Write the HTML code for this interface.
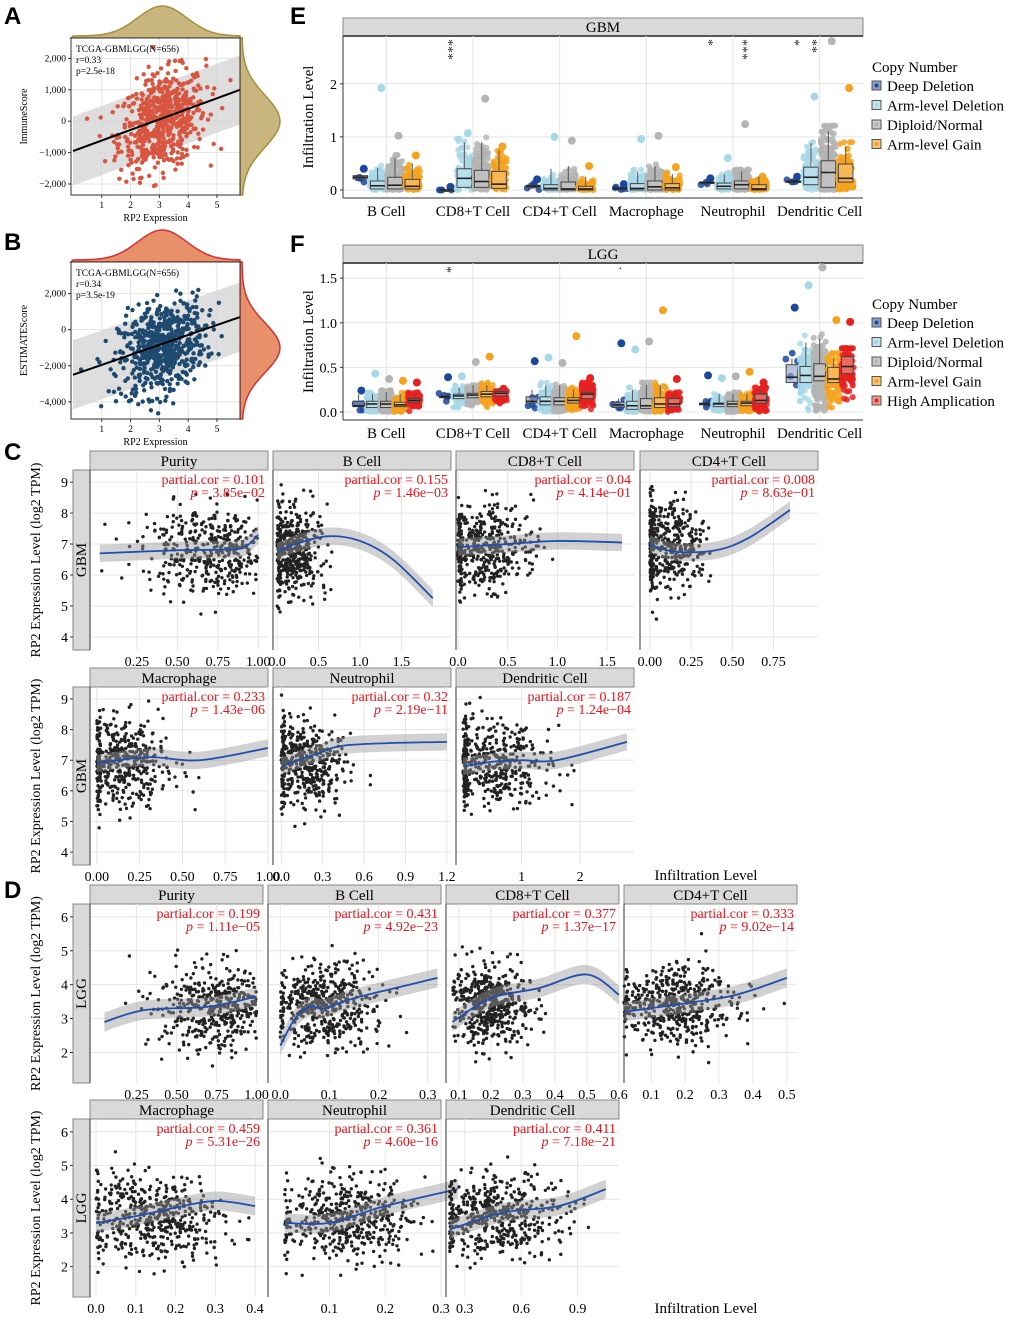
<!DOCTYPE html>
<html><head><meta charset="utf-8"><style>
html,body{margin:0;padding:0;background:#fff}
svg{display:block;font-family:"Liberation Serif",serif}
.pl{font-family:"Liberation Sans",sans-serif;font-weight:bold;font-size:24px}
</style></head><body>
<svg id="fig" width="1020" height="1319" viewBox="0 0 1020 1319" xmlns="http://www.w3.org/2000/svg">
<text class="pl" x="4" y="24">A</text>
<text class="pl" x="4" y="250">B</text>
<text class="pl" x="4" y="460">C</text>
<text class="pl" x="4" y="898">D</text>
<text class="pl" x="290" y="24">E</text>
<text class="pl" x="290" y="252">F</text>
<g id="root"></g>
</svg>
<script>
// ---------- DATA ----------
const abLabels = ["ImmuneScore","ESTIMATEScore"];
const abR = ["r=0.33","r=0.34"];
const abP = ["p=2.5e-18","p=3.5e-19"];
const abYTicksA = [2000,1000,0,-1000,-2000];
const abYTicksB = [2000,0,-2000,-4000];
const abXTicks = [1,2,3,4,5];
const abLineA = [-950,1000];
const abLineB = [-2500,700];
const abCloudA = [3.1,0.75,0,750,600];
const abCloudB = [3.1,0.75,-1000,1250,600];

const eCategories = ["B Cell","CD8+T Cell","CD4+T Cell","Macrophage","Neutrophil","Dendritic Cell"];
const eGroups = ["Deep Deletion","Arm-level Deletion","Diploid/Normal","Arm-level Gain"];
const fGroups = ["Deep Deletion","Arm-level Deletion","Diploid/Normal","Arm-level Gain","High Amplication"];
// per category, per group: [q1, median, q3, whiskerHigh, maxPoint]
const eBoxes = [
 [[0.21,0.24,0.27,0.3,0.4],[0.02,0.08,0.17,0.42,1.92],[0.02,0.09,0.24,0.6,1.02],[0.02,0.07,0.2,0.5,0.65]],
 [[0,0,0,0,0.06],[0.05,0.22,0.4,0.9,1.07],[0.05,0.16,0.37,0.9,1.72],[0.03,0.11,0.35,0.75,0.82]],
 [[0.04,0.07,0.09,0.12,0.2],[0.0,0.03,0.1,0.4,1.0],[0.0,0.02,0.15,0.45,0.93],[0.0,0.02,0.07,0.25,0.45]],
 [[0.02,0.03,0.04,0.05,0.11],[0.0,0.03,0.12,0.35,0.96],[0.0,0.06,0.17,0.45,1.02],[0.0,0.04,0.12,0.3,0.43]],
 [[0.13,0.14,0.15,0.16,0.22],[0.02,0.07,0.13,0.3,0.6],[0.02,0.1,0.17,0.35,1.24],[0.0,0.02,0.1,0.25,0.25]],
 [[0.15,0.16,0.17,0.18,0.25],[0.1,0.24,0.43,0.88,1.76],[0.05,0.33,0.55,1.1,2.8],[0.15,0.22,0.49,0.82,1.92]]
];
const fBoxes = [
 [[0.06,0.07,0.12,0.2,0.24],[0.05,0.09,0.12,0.2,0.43],[0.05,0.09,0.12,0.22,0.37],[0.06,0.08,0.11,0.2,0.35],[0.11,0.13,0.15,0.2,0.33]],
 [[0.16,0.17,0.18,0.2,0.39],[0.15,0.18,0.2,0.27,0.4],[0.16,0.19,0.21,0.3,0.56],[0.17,0.2,0.23,0.3,0.62],[0.18,0.21,0.23,0.27,0.26]],
 [[0.1,0.12,0.17,0.25,0.57],[0.08,0.12,0.17,0.3,0.61],[0.08,0.12,0.16,0.3,0.55],[0.1,0.13,0.16,0.25,0.85],[0.15,0.2,0.22,0.3,0.38]],
 [[0.05,0.08,0.11,0.15,0.77],[0.03,0.07,0.12,0.25,0.7],[0.04,0.07,0.15,0.3,0.79],[0.05,0.09,0.16,0.3,1.14],[0.06,0.09,0.15,0.2,0.37]],
 [[0.08,0.09,0.1,0.12,0.41],[0.06,0.09,0.1,0.2,0.38],[0.06,0.09,0.12,0.2,0.4],[0.07,0.1,0.12,0.2,0.45],[0.1,0.13,0.2,0.25,0.33]],
 [[0.33,0.39,0.53,0.6,1.17],[0.33,0.41,0.51,0.78,1.42],[0.35,0.4,0.54,0.82,1.62],[0.33,0.37,0.5,0.6,1.03],[0.43,0.51,0.62,0.65,1.01]]
];
const eStars = [["","","",""],["***","","",""],["","","",""],["","","",""],["*","","***",""],["*","**","",""]];
const fStars = [["","","","",""],["*","","","",""],["","","","",""],["·","","","",""],["","","","",""],["","","","",""]];

const cTitles = ["Purity","B Cell","CD8+T Cell","CD4+T Cell","Macrophage","Neutrophil","Dendritic Cell"];
const cCor = ["0.101","0.155","0.04","0.008","0.233","0.32","0.187"];
const cPval = ["3.85e\u221202","1.46e\u221203","4.14e\u221201","8.63e\u221201","1.43e\u221206","2.19e\u221211","1.24e\u221204"];
const dCor = ["0.199","0.431","0.377","0.333","0.459","0.361","0.411"];
const dPval = ["1.11e\u221205","4.92e\u221223","1.37e\u221217","9.02e\u221214","5.31e\u221226","4.60e\u221216","7.18e\u221221"];
const cXDom = [[-0.04,1.06],[-0.05,2.1],[-0.02,1.77],[-0.06,1.02],[-0.04,1.0],[-0.06,1.23],[-0.12,2.92]];
const cXTicks = [["0.25","0.50","0.75","1.00"],["0.0","0.5","1.0","1.5"],["0.0","0.5","1.0","1.5"],["0.00","0.25","0.50","0.75"],["0.00","0.25","0.50","0.75","1.00"],["0.0","0.3","0.6","0.9","1.2"],["1","2"]];
const dXDom = [[-0.04,1.04],[-0.025,0.327],[0.06,0.6],[0.02,0.53],[-0.015,0.42],[-0.01,0.3],[0.2,1.12]];
const dXTicks = [["0.25","0.50","0.75","1.00"],["0.0","0.1","0.2","0.3"],["0.1","0.2","0.3","0.4","0.5","0.6"],["0.1","0.2","0.3","0.4","0.5"],["0.0","0.1","0.2","0.3","0.4"],["0.1","0.2","0.3"],["0.3","0.6","0.9"]];
const cCurves = [
 [[0.02,6.7],[0.5,6.8],[0.85,6.83],[0.93,6.95],[1.0,7.3]],
 [[0.0,6.75],[0.2,6.98],[0.6,7.25],[1.0,7.1],[1.4,6.5],[1.88,5.25]],
 [[0.0,6.9],[0.5,7.0],[1.0,7.1],[1.65,7.05]],
 [[0.0,7.0],[0.15,6.75],[0.4,6.8],[0.6,7.2],[0.85,8.1]],
 [[0.0,6.9],[0.3,7.1],[0.6,7.0],[1.0,7.4]],
 [[0.0,6.8],[0.25,7.2],[0.5,7.5],[1.2,7.6]],
 [[0.0,6.8],[0.5,6.95],[1.0,7.0],[1.6,7.0],[2.8,7.6]]
];
const dCurves = [
 [[0.05,2.9],[0.3,3.25],[0.7,3.35],[1.0,3.65]],
 [[0.0,2.2],[0.03,3.0],[0.06,3.35],[0.09,3.3],[0.15,3.6],[0.32,4.2]],
 [[0.08,2.9],[0.2,3.6],[0.35,3.9],[0.5,4.3],[0.6,3.7]],
 [[0.02,3.2],[0.2,3.45],[0.35,3.7],[0.5,4.2]],
 [[0.0,3.3],[0.1,3.5],[0.2,3.75],[0.3,3.95],[0.4,3.8]],
 [[0.02,3.3],[0.1,3.3],[0.2,3.8],[0.33,4.3]],
 [[0.22,3.1],[0.5,3.6],[0.8,3.8],[1.05,4.3]]
];
const cClouds = [[0.72,0.22,6.8,0.7,450],[0.18,0.17,6.8,0.7,450],[0.25,0.25,6.9,0.7,450],[0.08,0.12,6.9,0.7,450],[0.15,0.15,6.9,0.7,450],[0.15,0.15,6.9,0.7,450],[0.5,0.5,6.9,0.65,450]];
const dClouds = [[0.75,0.2,3.35,0.6,500],[0.09,0.055,3.4,0.6,500],[0.2,0.06,3.4,0.6,500],[0.17,0.09,3.4,0.55,500],[0.14,0.09,3.5,0.6,500],[0.13,0.06,3.4,0.6,500],[0.48,0.17,3.5,0.6,500]];

// ---------- helpers ----------
const NS="http://www.w3.org/2000/svg";
const root=document.getElementById('root');
function el(tag,attrs,parent,text){const e=document.createElementNS(NS,tag);for(const k in attrs)e.setAttribute(k,attrs[k]);if(text!==undefined)e.textContent=text;(parent||root).appendChild(e);return e;}
let seed=12345;
function rnd(){seed=(seed*1103515245+12345)%2147483648;return seed/2147483648;}
function gauss(){let u=rnd()||1e-6,v=rnd();return Math.sqrt(-2*Math.log(u))*Math.cos(2*Math.PI*v);}
function lin(d0,d1,r0,r1){return v=>r0+(v-d0)/(d1-d0)*(r1-r0);}

// ---------- A / B ----------
function abPanel(i,top,yTicks,y0v,y1v,line,cloud,col,densCol,densStroke){
  const g=el('g',{});  
  const L=71,R=240,T=top,B=top+157;
  const x=lin(0,5.8,L+2,R), y=lin(y0v,y1v,B,T);
  let d="M"+L+","+T; for(let k=0;k<=40;k++){const xv=k/40*5.8;const h=30*Math.exp(-Math.pow((xv-3.1)/0.85,2)/2);d+=" L"+x(xv)+","+(T-2-h);} d+=" L"+R+","+T+" Z";
  const td=el('path',{d:d,fill:densCol,stroke:densStroke,'stroke-width':1.5},g);  
  let d2="M"+R+","+T; for(let k=0;k<=40;k++){const yv=y1v+(y0v-y1v)*k/40;const w=38*Math.exp(-Math.pow((yv-cloud[2])/(cloud[3]*1.1),2)/2);d2+=" L"+(R+2+w)+","+y(yv);} d2+=" L"+R+","+B+" Z";
  const rd=el('path',{d:d2,fill:densCol,stroke:densStroke,'stroke-width':1.5},g);  
  el('rect',{x:L,y:T,width:R-L,height:B-T,fill:'#fff',stroke:'none'},g);
  for(const t of abXTicks){el('line',{x1:x(t),x2:x(t),y1:T,y2:B,stroke:'#e2e2e2'},g);}
  for(const t of yTicks){el('line',{x1:L,x2:R,y1:y(t),y2:y(t),stroke:'#e2e2e2'},g);}
  const bw=(y1v-y0v)*0.22;
  el('path',{d:`M${x(0)},${y(line[0]+bw)} L${x(5.8)},${y(line[1]+bw)} L${x(5.8)},${y(line[1]-bw)} L${x(0)},${y(line[0]-bw)} Z`,fill:'#d6d6d6',opacity:0.8},g);
  for(let k=0;k<cloud[4];k++){const xv=cloud[0]+gauss()*cloud[1];const yv=cloud[2]+gauss()*cloud[3]+(xv-cloud[0])*cloud[3]*0.4;
    if(xv<0||xv>5.8||yv<y0v||yv>y1v)continue; el('circle',{cx:x(xv),cy:y(yv),r:2.2,fill:col},g);}
  el('line',{x1:x(0),y1:y(line[0]),x2:x(5.8),y2:y(line[1]),stroke:'#000','stroke-width':2},g);
  el('rect',{x:L,y:T,width:R-L,height:B-T,fill:'none',stroke:'#333','stroke-width':1},g);
  const ts=el('g',{'font-size':9.5},g);
  el('text',{x:76,y:T+14},ts,'TCGA-GBMLGG(N=656)');el('text',{x:76,y:T+25},ts,abR[i]);el('text',{x:76,y:T+36},ts,abP[i]);
  for(const t of abXTicks){el('line',{x1:x(t),x2:x(t),y1:B,y2:B+3,stroke:'#333'},g);el('text',{x:x(t),y:B+13,'font-size':9.5,'text-anchor':'middle'},g,String(t));}
  for(const t of yTicks){el('line',{x1:L-3,x2:L,y1:y(t),y2:y(t),stroke:'#333'},g);el('text',{x:L-5,y:y(t)+3,'font-size':9.5,'text-anchor':'end'},g,t.toLocaleString('en-US').replace('-','\u2212'));}
  el('text',{x:(L+R)/2,y:B+26,'font-size':10,'text-anchor':'middle'},g,'RP2 Expression');
  el('text',{x:0,y:0,'font-size':10,'text-anchor':'middle',transform:`translate(${L-44},${(T+B)/2}) rotate(-90)`},g,abLabels[i]);
}
abPanel(0,38,abYTicksA,-2350,2650,abLineA,abCloudA,'#d9553f','#c9b67e','#a88e3c');
abPanel(1,262,abYTicksB,-4950,3750,abLineB,abCloudB,'#1f4a70','#e8906a','#d93030');

// ---------- E / F ----------
const gFill=['#8c9cc8','#bfe2ee','#c8c8c8','#f8c578','#f29a8a'];
const gPt=['#1b479c','#a8d8e8','#b4b4b4','#f5a21e','#e82020'];
function boxPanel(name,top,bot,ymax,yTicks,yTickLab,boxes,groups,stars,title,legTop){
  const g=el('g',{});  
  const L=343,R=863,T=top+18,B=bot;
  const y=lin(0,ymax,B-8,T);
  el('rect',{x:L,y:top,width:R-L,height:18,fill:'#d9d9d9',stroke:'#888'},g);
  el('line',{x1:L,x2:R,y1:T,y2:T,stroke:'#555','stroke-width':2},g);
  el('text',{x:(L+R)/2,y:top+14,'font-size':15,'text-anchor':'middle'},g,title);
  const cw=(R-L)/6;
  for(let c=0;c<6;c++){el('line',{x1:L+cw*(c+0.5),x2:L+cw*(c+0.5),y1:T,y2:B,stroke:'#e4e4e4'},g);}
  for(const t of yTicks){el('line',{x1:L,x2:R,y1:y(t),y2:y(t),stroke:'#e4e4e4'},g);}
  const ng=groups.length, bw=cw*0.8/ng;
  for(let c=0;c<6;c++){
    for(let k=0;k<ng;k++){
      const b=boxes[c][k]; const cx=L+cw*(c+0.1)+bw*(k+0.5);
      const n=k===0?5:(k===2?200:90);
      for(let j=0;j<n;j++){const v=Math.abs(b[1]+gauss()*(b[2]-b[0])*1.0); const vv=Math.min(v,b[3]*1.1,b[4]*0.9);
        el('circle',{cx:cx+(rnd()-0.5)*bw*0.9,cy:y(vv),r:k===0?3.4:3,fill:gPt[k],opacity:0.85},g);}
      el('circle',{cx:cx+bw*0.2,cy:y(b[4]),r:4,fill:gPt[k]},g);
      el('line',{x1:cx,x2:cx,y1:y(b[2]),y2:y(b[3]),stroke:'#555'},g);
      el('rect',{x:cx-bw*0.42,y:y(b[2]),width:bw*0.84,height:Math.max(1.5,y(b[0])-y(b[2])),fill:gFill[k],'fill-opacity':0.6,stroke:'#444'},g);
      el('line',{x1:cx-bw*0.42,x2:cx+bw*0.42,y1:y(b[1]),y2:y(b[1]),stroke:'#222','stroke-width':1.6},g);
      if(stars[c][k]){el('text',{x:0,y:0,'font-size':14,'text-anchor':'start',fill:'#333',transform:`translate(${cx-3},${T+3}) rotate(90)`},g,stars[c][k]);}
    }
    el('text',{x:L+cw*(c+0.5),y:B+18,'font-size':15,'text-anchor':'middle'},g,eCategories[c]);
  }
  el('line',{x1:L,x2:L,y1:T,y2:B,stroke:'#333'},g);el('line',{x1:L,x2:R,y1:B,y2:B,stroke:'#333'},g);
  yTicks.forEach((t,i)=>{el('line',{x1:L-3,x2:L,y1:y(t),y2:y(t),stroke:'#333'},g);el('text',{x:L-6,y:y(t)+5,'font-size':14,'text-anchor':'end'},g,yTickLab[i]);});
  el('text',{x:0,y:0,'font-size':15,'text-anchor':'middle',transform:`translate(${L-30},${(T+B)/2}) rotate(-90)`},g,'Infiltration Level');
  const lg=el('g',{},g);  
  const ly=legTop;
  el('text',{x:872,y:ly-8,'font-size':15},lg,'Copy Number');
  groups.forEach((gn,k)=>{const e=el('g',{},lg);  
    el('rect',{x:872,y:ly+k*19.5+1,width:9,height:9,fill:gFill[k],stroke:'#555'},e);el('circle',{cx:876.5,cy:ly+k*19.5+5.5,r:2,fill:gPt[k]},e);
    el('text',{x:887,y:ly+k*19.5+11,'font-size':15},e,gn);});
}
boxPanel('boxplot-gbm',18,198,2.9,[0,1,2],['0','1','2'],eBoxes,eGroups,eStars,'GBM',80);
boxPanel('boxplot-lgg',245,420,1.67,[0,0.5,1,1.5],['0.0','0.5','1.0','1.5'],fBoxes,fGroups,fStars,'LGG',317);

// ---------- C / D ----------
function smooth(pts,x,y){const P=pts.map(p=>[x(p[0]),y(p[1])]);let d="M"+P[0][0]+","+P[0][1];
  for(let i=0;i<P.length-1;i++){const p0=P[Math.max(0,i-1)],p1=P[i],p2=P[i+1],p3=P[Math.min(P.length-1,i+2)];
    d+=` C${p1[0]+(p2[0]-p0[0])/6},${p1[1]+(p2[1]-p0[1])/6} ${p2[0]-(p3[0]-p1[0])/6},${p2[1]-(p3[1]-p1[1])/6} ${p2[0]},${p2[1]}`;}return d;}
function corPanel(name,L,R,top,bot,yDom,yTicksV,xDom,xTicks,title,cor,pval,curve,cloud){
  const g=el('g',{});  
  const T=top+19;
  el('rect',{x:L,y:top,width:R-L,height:19,fill:'#d9d9d9',stroke:'#888'},g);
  el('text',{x:(L+R)/2,y:top+15,'font-size':15,'text-anchor':'middle'},g,title);
  const x=lin(xDom[0],xDom[1],L,R), y=lin(yDom[0],yDom[1],bot,T);
  for(const t of xTicks){const v=parseFloat(t);el('line',{x1:x(v),x2:x(v),y1:T,y2:bot,stroke:'#e6e6e6'},g);}
  for(const t of yTicksV){el('line',{x1:L,x2:R,y1:y(t),y2:y(t),stroke:'#e6e6e6'},g);}
  const xmin=curve[0][0], xmax=curve[curve.length-1][0];
  for(let k=0;k<cloud[4];k++){let xv=cloud[0]+gauss()*cloud[1];const yv=cloud[2]+gauss()*cloud[3];
    if(xv<xmin)xv=xmin+rnd()*(xDom[1]-xDom[0])*0.02;
    if(xv>xmax||yv<yDom[0]||yv>yDom[1])continue;
    el('circle',{cx:x(xv),cy:y(yv),r:1.7,fill:'#222'},g);}
  const up=curve.map(p=>[p[0],p[1]+0.28]),dn=curve.map(p=>[p[0],p[1]-0.28]).reverse();
  el('path',{d:smooth(up,x,y)+" L"+smooth(dn,x,y).slice(1)+" Z",fill:'#9a9a9a',opacity:0.45},g);
  el('path',{d:smooth(curve,x,y),fill:'none',stroke:'#1f4fb0','stroke-width':1.8},g);
  el('line',{x1:L,x2:L,y1:T,y2:bot,stroke:'#333'},g);
  el('text',{x:R-3,y:T+14,'font-size':14,fill:'#e8141c','text-anchor':'end'},g,'partial.cor = '+cor);
  const pt=el('text',{x:R-3,y:T+27,'font-size':14,fill:'#e8141c','text-anchor':'end'},g);
  el('tspan',{'font-style':'italic'},pt,'p');el('tspan',{},pt,' = '+pval);
  for(const t of xTicks){el('text',{x:x(parseFloat(t)),y:bot+16,'font-size':14,'text-anchor':'middle'},g,t);}
}
function corRow(rowName,top,bot,yDom,yTicksV,lefts,rights,idx,xDoms,xTicks,cors,pvals,curves,clouds,side){
  const g=el('g',{});  
  const T=top+19, y=lin(yDom[0],yDom[1],bot,T);
  el('rect',{x:73,y:T,width:17,height:bot-T,fill:'#d9d9d9',stroke:'#888'},g);
  el('text',{x:0,y:0,'font-size':15,'text-anchor':'middle',transform:`translate(86,${(T+bot)/2}) rotate(-90)`},g,side);
  for(const t of yTicksV){el('text',{x:68,y:y(t)+5,'font-size':14,'text-anchor':'end'},g,String(t));el('line',{x1:70,x2:73,y1:y(t),y2:y(t),stroke:'#333'},g);}
  el('text',{x:0,y:0,'font-size':14,'text-anchor':'middle',transform:`translate(40,${(T+bot)/2}) rotate(-90)`},g,'RP2 Expression Level (log2 TPM)');
  idx.forEach((k,j)=>corPanel('cor-panel-'+side.toLowerCase()+'-'+k,lefts[j],rights[j],top,bot,yDom,yTicksV,xDoms[k],xTicks[k],cTitles[k],cors[k],pvals[k],curves[k],clouds[k]));
}
corRow('gbm-row-1',451,650,[3.58,9.39],[4,5,6,7,8,9],[90,273,456,640],[268,451,634,818],[0,1,2,3],cXDom,cXTicks,cCor,cPval,cCurves,cClouds,'GBM');
corRow('gbm-row-2',668,865,[3.58,9.39],[4,5,6,7,8,9],[90,273,456],[268,451,634],[4,5,6],cXDom,cXTicks,cCor,cPval,cCurves,cClouds,'GBM');
corRow('lgg-row-1',885,1083,[1.1,6.38],[2,3,4,5,6],[90,268,446,624],[263,441,619,797],[0,1,2,3],dXDom,dXTicks,dCor,dPval,dCurves,dClouds,'LGG');
corRow('lgg-row-2',1100,1297,[1.1,6.38],[2,3,4,5,6],[90,268,446],[263,441,619],[4,5,6],dXDom,dXTicks,dCor,dPval,dCurves,dClouds,'LGG');
const t1=el('text',{x:706,y:880,'font-size':15,'text-anchor':'middle'},root,'Infiltration Level');


const t2=el('text',{x:706,y:1313,'font-size':15,'text-anchor':'middle'},root,'Infiltration Level');


</script>
</body></html>
